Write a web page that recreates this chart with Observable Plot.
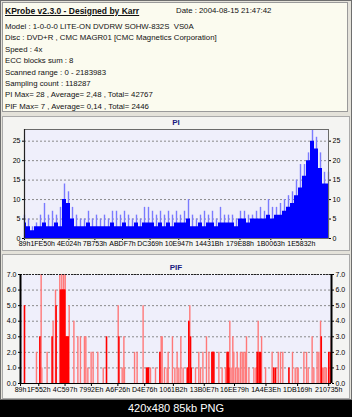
<!DOCTYPE html>
<html><head><meta charset="utf-8">
<script src="https://cdn.jsdelivr.net/npm/d3@7"></script>
<script src="https://cdn.jsdelivr.net/npm/@observablehq/plot@0.6"></script>
<style>
html,body{margin:0;padding:0;background:#000;}
#root{position:relative;width:352px;height:417px;overflow:hidden;background:#d8d6cc;font-family:"Liberation Sans",Arial,sans-serif;}
#frame{position:absolute;left:0;top:0;width:350px;height:398px;border:1px solid #6e6e6e;background:#e4e2da;}
#hdr{position:absolute;left:2px;top:2px;width:344px;height:108px;background:#fbfbef;border:1px solid #9a9a9a;font-size:7.8px;color:#111;}
#hdr .t{position:absolute;left:2px;top:3px;font-weight:bold;text-decoration:underline;font-size:8.5px;}
#hdr .d{position:absolute;left:173px;top:3px;}
#hdr .l{position:absolute;left:2px;white-space:pre;}
.panel{position:absolute;left:2px;width:346px;background:#f4f4f2;border:1px solid #aaa;}
.ptitle{position:absolute;width:352px;left:0;text-align:center;font-weight:bold;font-size:8px;color:#1a1a80;}
.svgwrap{position:absolute;left:0;}
#foot{position:absolute;left:0;top:400px;width:352px;height:17px;background:#000;color:#fff;font-size:11px;text-align:center;line-height:17px;font-family:"Liberation Sans",Arial,sans-serif;}
</style></head><body>
<div id="root">
  <div id="frame"></div>
  <div id="hdr"></div>
  <div class="panel" style="top:116px;height:133px"></div>
  <div class="panel" style="top:254px;height:143px"></div>
  <div class="ptitle" style="top:118px">PI</div>
  <div class="ptitle" style="top:263px">PIF</div>
  <div id="piwrap" class="svgwrap" style="top:116px"></div>
  <div id="pifwrap" class="svgwrap" style="top:254px"></div>
  <div id="foot">420x480 85kb PNG</div>
</div>
<script>
const titleText = "KProbe v2.3.0 - Designed by Karr";
const dateText = "Date : 2004-08-15 21:47:42";
const infoLines = [
  "Model : 1-0-0-0 LITE-ON DVDRW SOHW-832S  VS0A",
  "Disc : DVD+R , CMC MAGR01 [CMC Magnetics Corporation]",
  "Speed : 4x",
  "ECC blocks sum : 8",
  "Scanned range : 0 - 2183983",
  "Sampling count : 118287",
  "PI Max= 28 , Average= 2,48 , Total= 42767",
  "PIF Max= 7 , Average= 0,14 , Total= 2446"
];
const scanEnd = 2183983;

// PI: solid level and spike level per sample (evenly spaced across scanned range)
const piBase = [4,3,2,3,3,4,3,3,4,3,10,9,5,3,3,3,4,3,3,3,3,3,4,3,3,4,3,3,4,3,4,4,4,3,4,3,4,3,4,4,4,5,3,3,4,3,4,4,3,4,4,4,4,3,5,5,4,5,5,5,5,6,5,6,6,7,8,9,11,13,16,20,25,23,18,14,14];
const piPeak = [6,5,3,4,6,9,6,7,6,8,14,12,8,6,5,5,7,5,6,5,6,5,7,7,6,7,6,5,6,5,8,8,7,6,7,6,7,6,7,6,7,10,6,5,6,7,6,7,5,8,6,6,6,5,7,7,6,6,7,8,7,10,8,8,9,10,11,12,15,19,19,22,28,26,22,17,17];
const piTickLabels = ["89h","1FE50h","4E024h","7B753h","ABDF7h","DC369h","10E947h","14431Bh","179E88h","1B0063h","1E5832h"];
const piYTicks = [0,5,10,15,20,25];

// PIF: position (thousands of sectors), value, dark (1) or light (0)
const pifPosK = [28,112,136,145,150,187,222,229,246,250,276,281,286,290,293,297,300,303,307,311,314,318,323,328,335,342,375,403,421,449,459,473,496,510,543,581,604,686,691,714,726,730,801,819,861,885,892,899,913,948,979,988,995,1011,1030,1037,1067,1084,1100,1112,1126,1142,1171,1178,1182,1189,1194,1199,1229,1252,1264,1281,1306,1323,1344,1351,1358,1393,1416,1440,1451,1458,1463,1470,1479,1491,1498,1510,1522,1533,1545,1557,1568,1580,1587,1604,1639,1653,1662,1669,1676,1686,1693,1721,1767,1779,1791,1810,1826,1842,1885,1910,1929,1943,1950,1990,2009,2020,2048,2060,2083,2095,2107,2112,2121,2130,2139,2149,2165,2177,2182];
const pifVal  = [5,2,3,7,1,2,3,4,6,5,7,6,6,7,6,6,6,7,6,6,7,3,3,3,3,5,4,3,3,3,3,1,2,2,2,1,3,5,3,1,3,1,2,2,5,1,1,1,1,1,2,3,3,1,1,2,3,1,2,1,3,1,1,1,4,5,3,1,1,2,1,2,3,2,2,2,2,2,1,1,2,2,1,4,1,3,2,1,2,1,2,2,2,2,3,1,1,1,2,4,2,2,3,1,2,1,1,2,2,2,1,2,1,1,1,2,2,1,3,1,2,2,4,3,1,1,1,1,2,2,3];
const pifDark = [1,0,1,0,0,0,1,0,0,1,0,1,1,0,1,1,1,0,1,1,0,1,1,1,1,0,0,0,0,0,0,0,0,0,0,0,1,0,1,0,0,0,0,0,0,1,1,1,0,0,1,0,0,0,0,0,0,0,0,0,0,0,1,1,1,0,1,1,0,0,0,0,0,0,1,1,1,0,0,0,1,1,1,0,0,0,0,0,0,0,0,0,0,0,0,0,0,0,1,0,1,1,0,0,0,1,1,0,0,0,1,0,0,0,0,0,0,0,0,0,0,0,0,1,0,0,0,0,1,1,0];
const pifTickLabels = ["89h","1F552h","4C597h","7992Eh","A6F26h","D4E76h","1061B2h","13B0E7h","16EE79h","1A4E3Eh","1DB169h","210735h"];
const pifYTicks = [0,1,2,3,4,5,6,7];

// header
const hdr = document.getElementById("hdr");
hdr.innerHTML = `<div class="t">${titleText}</div><div class="d">${dateText}</div>` +
  infoLines.map((s,i)=>`<div class="l" style="top:${19 + i*11.4}px">${s}</div>`).join("");

const hex = s => parseInt(s.replace("h",""), 16);
const step = scanEnd / (piBase.length - 1);
const pi = piBase.map((b,i)=>({x:i*step, base:b, peak:piPeak[i]}));
const pif = pifPosK.map((p,i)=>({x:p*1000, v:pifVal[i], dark:pifDark[i]}));
const tickFont = {fontSize:7, fontFamily:"Liberation Sans, Arial, sans-serif"};

const piChart = Plot.plot({
  width:352, height:133,
  marginLeft:24, marginRight:24, marginTop:13, marginBottom:11,
  style:{background:"transparent", ...tickFont, color:"#000"},
  x:{domain:[0, scanEnd]},
  y:{domain:[0, 28]},
  marks:[
    Plot.rect([0],{x1:0, x2:scanEnd, y1:0, y2:28, fill:"#efeffb"}),
    Plot.gridY(piYTicks.filter(d=>d>0),{stroke:"#8a8a8a", strokeOpacity:1, strokeDasharray:"2,2"}),
    Plot.ruleX(pi,{x:"x", y1:0, y2:"peak", stroke:"#7a7aff", strokeWidth:1.4}),
    Plot.areaY(pi,{x:"x", y:"base", fill:"#0000ff", curve:"step"}),
    Plot.axisY({anchor:"left", ticks:piYTicks, tickSize:2, tickPadding:2, label:null}),
    Plot.axisY({anchor:"right", ticks:piYTicks, tickSize:2, tickPadding:2, label:null}),
    Plot.axisX({ticks:piTickLabels.map(hex), tickFormat:(d,i)=>piTickLabels[i], tickSize:2, tickPadding:1, label:null}),
    Plot.frame({stroke:"#6a6a6a"}),
    Plot.ruleX([0],{stroke:"#222", strokeWidth:1.2})
  ]
});
document.getElementById("piwrap").appendChild(piChart);

const pifChart = Plot.plot({
  width:352, height:143,
  marginLeft:20, marginRight:21, marginTop:20, marginBottom:14,
  style:{background:"transparent", ...tickFont, color:"#000"},
  x:{domain:[0, scanEnd]},
  y:{domain:[0, 7]},
  marks:[
    Plot.rect([0],{x1:0, x2:scanEnd, y1:0, y2:7, fill:"#efeffb"}),
    Plot.gridY(pifYTicks.filter(d=>d>0),{stroke:"#8a8a8a", strokeOpacity:1, strokeDasharray:"2,2"}),
    Plot.ruleX(pif.filter(d=>!d.dark),{x:"x", y1:0, y2:"v", stroke:"#ff7878", strokeWidth:1.4}),
    Plot.ruleX(pif.filter(d=>d.dark),{x:"x", y1:0, y2:"v", stroke:"#ff0000", strokeWidth:1.6}),
    Plot.axisY({anchor:"left", ticks:pifYTicks, tickSize:2, tickPadding:2, label:null}),
    Plot.axisY({anchor:"right", ticks:pifYTicks, tickSize:2, tickPadding:2, label:null}),
    Plot.axisX({ticks:pifTickLabels.map(hex), tickFormat:(d,i)=>pifTickLabels[i], tickSize:3, tickPadding:1, label:null}),
    Plot.ruleY([7],{stroke:"#222", strokeDasharray:"2,1"}),
    Plot.ruleY([0],{stroke:"#000"}),
    Plot.ruleX([0, scanEnd],{stroke:"#000", strokeWidth:2})
  ]
});
document.getElementById("pifwrap").appendChild(pifChart);
</script>
</body></html>
